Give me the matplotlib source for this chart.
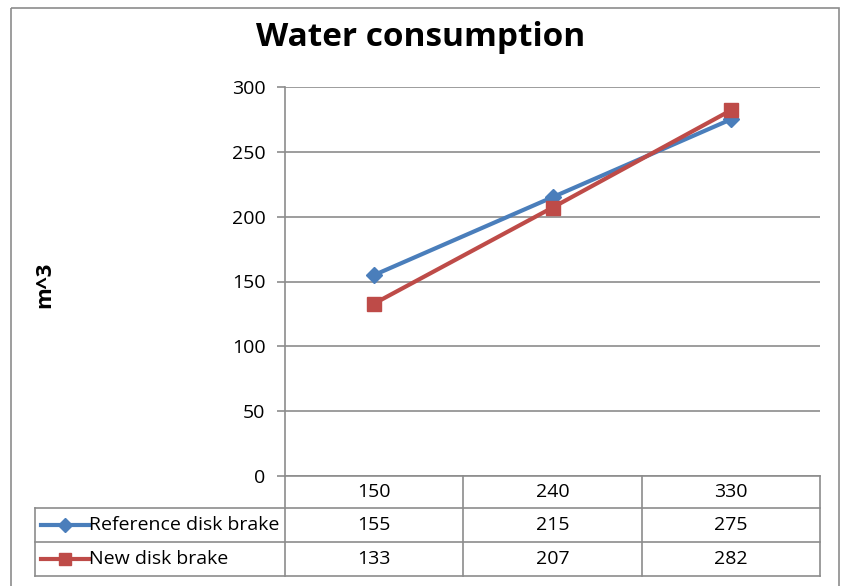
import matplotlib
matplotlib.use("Agg")
import matplotlib.pyplot as plt
from matplotlib.patches import Rectangle

categories = ["150", "240", "330"]
series_names = ["Reference disk brake", "New disk brake"]
reference_vals = [155, 215, 275]
new_vals = [133, 207, 282]
y_ticks = [0, 50, 100, 150, 200, 250, 300]
title = "Water consumption"
y_label = "m^3"

colors = ["#4A7EBB", "#BE4B48"]
markers = ["D", "s"]
msizes = [8.5, 10]

W, H = 842, 586
fig = plt.figure(figsize=(W / 100, H / 100), dpi=100)
plt.rcParams['font.family'] = ['Open Sans', 'DejaVu Sans']
FS = 14

def fx(px):
    return px / W

def fy(py):
    return 1 - py / H

# outer frame
frame = fig.add_axes([0, 0, 1, 1])
frame.set_xlim(0, W)
frame.set_ylim(H, 0)
frame.axis("off")
frame.add_patch(Rectangle((11, 8), 828, 600, fill=False, ec="#8C8C8C", lw=1.2))

# main plot
L, R, T, B = 285, 820, 87, 476
ax = fig.add_axes([fx(L), fy(B), fx(R - L), (B - T) / H])
xs = list(range(len(categories)))
ax.set_xlim(-0.5, len(categories) - 0.5)
ax.set_ylim(min(y_ticks), max(y_ticks))
ax.set_yticks(y_ticks)
ax.set_xticks([])
ax.grid(axis="y", color="#8C8C8C", lw=1.2)
ax.set_axisbelow(True)
for s in ["top", "right", "bottom"]:
    ax.spines[s].set_visible(False)
ax.spines["left"].set_color("#8C8C8C")
ax.spines["left"].set_linewidth(1.2)
ax.tick_params(axis="y", direction="out", length=6, color="#8C8C8C", width=1.2,
               labelsize=FS, pad=8)
for vals, c, m, ms in zip([reference_vals, new_vals], colors, markers, msizes):
    ax.plot(xs, vals, color=c, lw=3, marker=m, ms=ms, mfc=c, mec=c, clip_on=False)

fig.text(fx(421), fy(37), title, ha="center", va="center", fontsize=24,
         fontweight="bold")
fig.text(fx(45), fy(285), y_label, ha="center", va="center", rotation=90,
         fontsize=16, fontweight="bold")

# data table
tb = fig.add_axes([0, 0, 1, 1])
tb.set_xlim(0, W)
tb.set_ylim(H, 0)
tb.axis("off")
gc = "#8C8C8C"
col_edges = [L + (R - L) * i / len(categories) for i in range(len(categories) + 1)]
row_edges = [476, 508, 542, 576]
label_left = 35
tb.plot([L, R], [row_edges[0]] * 2, color=gc, lw=1.2)
for y in row_edges[1:]:
    tb.plot([label_left, R], [y, y], color=gc, lw=1.2)
tb.plot([label_left, label_left], [row_edges[1], row_edges[-1]], color=gc, lw=1.2)
for x in col_edges:
    tb.plot([x, x], [row_edges[0], row_edges[-1]], color=gc, lw=1.2)

for i, cat in enumerate(categories):
    cx = (col_edges[i] + col_edges[i + 1]) / 2
    tb.text(cx, (row_edges[0] + row_edges[1]) / 2, cat, ha="center", va="center", fontsize=FS)
for r, (name, vals, c, m, ms) in enumerate(zip(series_names, [reference_vals, new_vals],
                                               colors, markers, msizes)):
    cy = (row_edges[r + 1] + row_edges[r + 2]) / 2
    tb.plot([41, 89], [cy, cy], color=c, lw=3)
    tb.plot([64.5], [cy], marker=m, ms=ms * 0.8, color=c)
    tb.text(89, cy, name, ha="left", va="center", fontsize=FS)
    for i, v in enumerate(vals):
        cx = (col_edges[i] + col_edges[i + 1]) / 2
        tb.text(cx, cy, str(v), ha="center", va="center", fontsize=FS)

fig.savefig("out.png", dpi=100)
